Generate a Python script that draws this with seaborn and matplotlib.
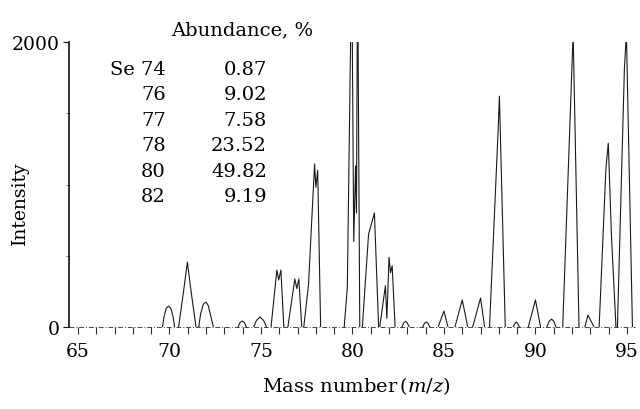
import numpy as np
import pandas as pd
import matplotlib
matplotlib.use('Agg')
import matplotlib.pyplot as plt
import seaborn as sns
from matplotlib.ticker import MultipleLocator, FixedLocator

NA = np.nan

# spectrum trace, one peak per row, NaN ends a peak
trace_mz = [
    69.62, 69.70, 69.82, 69.95, 70.08, 70.20, 70.28, NA,
    70.50, 70.80, 70.98, 71.15, 71.45, NA,
    71.60, 71.70, 71.85, 72.00, 72.12, 72.25, 72.40, NA,
    73.75, 73.85, 73.97, 74.10, 74.20, NA,
    74.60, 74.75, 74.95, 75.15, 75.30, NA,
    75.55, 75.87, 75.97, 76.09, 76.25, NA,
    76.47, 76.85, 76.96, 77.07, 77.23, NA,
    77.34, 77.60, 77.93, 78.00, 78.10, 78.26, NA,
    79.55, 79.72, 79.96, 80.07, 80.17, 80.22, 80.28, 80.40, NA,
    80.54, 80.88, 81.20, 81.43, NA,
    81.49, 81.80, 81.88, 82.00, 82.08, 82.17, 82.33, NA,
    82.70, 82.80, 82.90, 83.00, 83.10, NA,
    83.83, 83.93, 84.03, 84.13, 84.23, NA,
    84.68, 85.00, 85.22, NA,
    85.60, 86.00, 86.30, NA,
    86.57, 87.00, 87.22, NA,
    87.49, 87.97, 88.03, 88.35, NA,
    88.78, 88.88, 88.95, 89.03, 89.12, NA,
    89.61, 90.00, 90.28, NA,
    90.62, 90.75, 90.88, 91.00, 91.12, NA,
    91.49, 91.99, 92.06, 92.38, NA,
    92.70, 92.87, 93.20, NA,
    93.48, 93.85, 93.98, 94.15, 94.40, NA,
    94.48, 94.86, 94.97, 95.30,
]
trace_intensity = [
    0, 70, 130, 147, 130, 70, 0, NA,
    0, 280, 456, 280, 0, NA,
    0, 90, 160, 175, 150, 80, 0, NA,
    0, 30, 42, 30, 0, NA,
    0, 45, 70, 45, 0, NA,
    0, 400, 330, 400, 0, NA,
    0, 337, 270, 337, 0, NA,
    0, 300, 1144, 980, 1100, 0, NA,
    0, 280, 2600, 600, 1130, 800, 2600, 0, NA,
    0, 650, 800, 0, NA,
    0, 290, 60, 490, 380, 430, 0, NA,
    0, 28, 40, 28, 0, NA,
    0, 25, 35, 25, 0, NA,
    0, 112, 0, NA,
    0, 190, 0, NA,
    0, 204, 0, NA,
    0, 1410, 1620, 0, NA,
    0, 25, 35, 25, 0, NA,
    0, 190, 0, NA,
    0, 40, 56, 40, 0, NA,
    0, 1810, 2060, 0, NA,
    0, 84, 0, NA,
    0, 1110, 1290, 650, 0, NA,
    0, 1810, 2060, 0,
]

# isotope table printed inside the plot
isotopes = ['Se 74', '76', '77', '78', '80', '82']
abundances = ['0.87', '9.02', '7.58', '23.52', '49.82', '9.19']

x_ticks = [65, 70, 75, 80, 85, 90, 95]
y_ticks = [0, 2000]


def main():
    sns.set_theme(style='ticks')
    plt.rcParams['font.family'] = ['DejaVu Serif']
    plt.rcParams['mathtext.fontset'] = 'dejavuserif'
    plt.rcParams['text.color'] = 'black'
    plt.rcParams['xtick.labelcolor'] = 'black'
    plt.rcParams['ytick.labelcolor'] = 'black'

    df = pd.DataFrame({'mz': trace_mz, 'intensity': trace_intensity})
    df['peak'] = df['mz'].isna().cumsum()
    df = df.dropna()

    fig = plt.figure(figsize=(6.4, 4.1), dpi=100)
    ax = fig.add_axes([69 / 640, 1 - 328 / 410, 566 / 640, 285 / 410])

    sns.lineplot(data=df, x='mz', y='intensity', units='peak',
                 estimator=None, sort=False, color='#1a1a1a',
                 linewidth=0.8, ax=ax, legend=False)
    ax.axhline(0, color='#444444', linewidth=0.7,
               linestyle=(0, (5, 2, 1, 2)), zorder=1, clip_on=False)

    ax.set_xlim(64.51, 95.44)
    ax.set_ylim(0, 2000)
    ax.xaxis.set_major_locator(FixedLocator(x_ticks))
    ax.xaxis.set_minor_locator(MultipleLocator(1))
    ax.yaxis.set_major_locator(FixedLocator(y_ticks))
    ax.yaxis.set_minor_locator(MultipleLocator(500))
    ax.tick_params(axis='x', which='both', direction='out', length=5,
                   width=0.8, color='#333333', labelsize=13.5, pad=6)
    ax.tick_params(axis='y', which='major', direction='out', length=4,
                   width=0.8, color='#111111', labelsize=13.5, pad=3)
    ax.tick_params(axis='y', which='minor', direction='out', length=2,
                   width=0.6, color='#555555')

    for side in ('top', 'right', 'bottom'):
        ax.spines[side].set_visible(False)
    ax.spines['left'].set_linewidth(1.2)
    ax.spines['left'].set_color('#111111')
    ax.set_xlabel('')
    ax.set_ylabel('')

    fig.text(356 / 640, 1 - 386 / 410, r'Mass number$\,(m/z)$',
             ha='center', va='center', fontsize=14)
    fig.text(20 / 640, 1 - 203 / 410, 'Intensity', rotation=90,
             ha='center', va='center', fontsize=13.5)

    fig.text(242 / 640, 1 - 30 / 410, 'Abundance, %',
             ha='center', va='center', fontsize=14)
    for i, (iso, ab) in enumerate(zip(isotopes, abundances)):
        y = 1 - (70 + i * 25.4) / 410
        fig.text(166 / 640, y, iso, ha='right', va='center', fontsize=14)
        fig.text(267 / 640, y, ab, ha='right', va='center', fontsize=14)

    fig.savefig('out.png', dpi=100, facecolor='white')


if __name__ == '__main__':
    main()
